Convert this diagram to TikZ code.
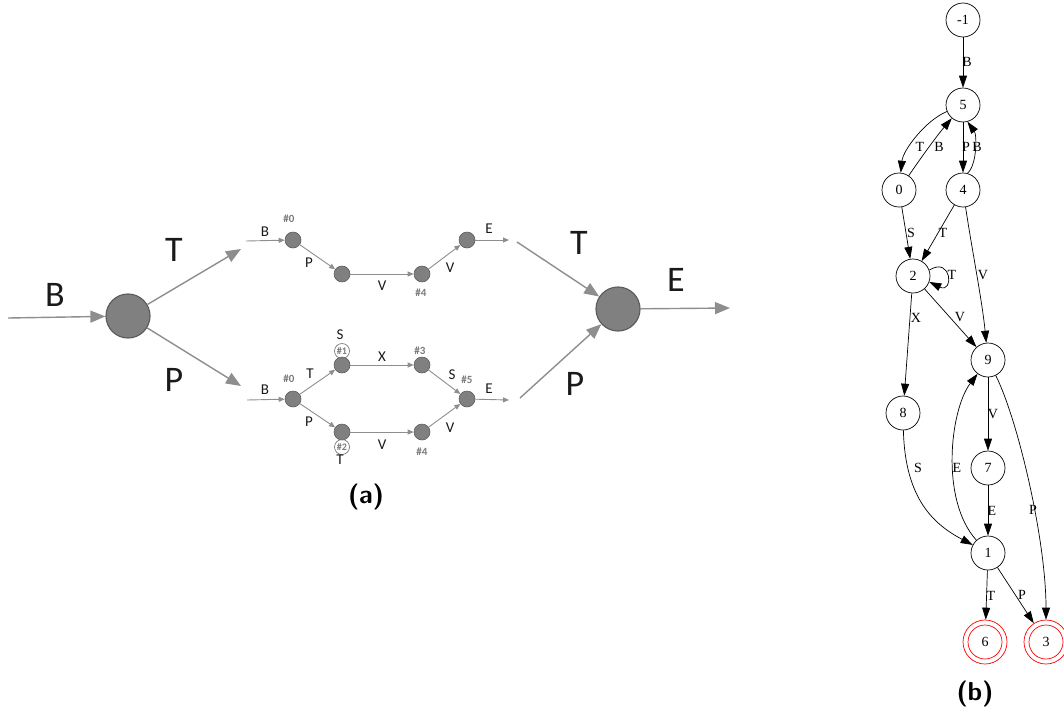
\documentclass[tikz,border=0pt]{standalone}
\usepackage{fontspec}
\setmainfont{Liberation Serif}
\newfontfamily\carl{Carlito}
\usetikzlibrary{arrows.meta}
\definecolor{nfill}{HTML}{808080}
\definecolor{nborder}{HTML}{5E5E5E}
\definecolor{lgray}{HTML}{8E8E8E}
\definecolor{hgray}{HTML}{7A7A7A}
\definecolor{ltext}{HTML}{1A1A1A}
\tikzset{
 bignode/.style={circle,fill=nfill,draw=nborder,line width=1.2pt,minimum size=44pt,inner sep=0pt},
 subnode/.style={circle,fill=nfill,draw=nborder,line width=0.6pt,minimum size=16pt,inner sep=0pt},
 bigarrow/.style={draw=lgray,line width=1.4pt,-{Triangle[length=15pt,width=12pt]},color=lgray},
 subarrow/.style={draw=lgray,line width=0.9pt,-{Triangle[length=6pt,width=5pt]},color=lgray},
 biglab/.style={font=\carl\fontsize{36}{36}\selectfont,text=ltext,inner sep=0pt},
 sublab/.style={font=\carl\fontsize{15}{15}\selectfont,text=ltext,inner sep=0pt},
 hashlab/.style={font=\carl\bfseries\fontsize{11}{11}\selectfont,text=hgray,inner sep=0pt},
 loopnode/.style={circle,draw=hgray,line width=0.7pt,minimum size=15pt,inner sep=0pt,font=\carl\bfseries\fontsize{10}{10}\selectfont,text=hgray},
 gnode/.style={circle,draw=black,line width=0.7pt,minimum size=34pt,inner sep=0pt,font=\fontsize{14}{14}\selectfont},
 fnode/.style={circle,draw=red,line width=0.7pt,minimum size=44pt,inner sep=0pt,font=\fontsize{14}{14}\selectfont},
 garrow/.style={draw=black,line width=0.7pt,-{Triangle[length=12pt,width=8pt]}},
 glab/.style={font=\fontsize{14}{14}\selectfont,inner sep=0pt},
 caption/.style={font=\sffamily\bfseries\fontsize{26}{26}\selectfont,inner sep=0pt}
}
\begin{document}
\begin{tikzpicture}[x=1pt,y=-1pt]
\useasboundingbox (0,0) rectangle (1064,718);
% ---------- (a) ----------
\node[bignode] (L) at (128,316) {};
\node[bignode] (R) at (618,309) {};
\coordinate (lin) at (8,318);
\coordinate (lup) at (241,249);
\coordinate (ldn) at (241,386);
\coordinate (rup) at (517,242);
\coordinate (rdn) at (520,398);
\coordinate (rout) at (730,308);
\draw[bigarrow] (lin) -- (L);
\draw[bigarrow] (L) -- (lup);
\draw[bigarrow] (L) -- (ldn);
\draw[bigarrow] (rup) -- (R);
\draw[bigarrow] (rdn) -- (R);
\draw[bigarrow] (R) -- (rout);
\node[biglab] (lB) at (55,295) {B};
\node[biglab] (lT) at (174,250) {T};
\node[biglab] (lP) at (174,380) {P};
\node[biglab] (rT) at (579,243) {T};
\node[biglab] (rP) at (575,384) {P};
\node[biglab] (rE) at (676,280) {E};
% top path
\coordinate (ta) at (246,241);
\coordinate (tz) at (509,240);
\node[subnode] (t0) at (293,240) {};
\node[subnode] (t1) at (342,274) {};
\node[subnode] (t2) at (422,274) {};
\node[subnode] (t3) at (467,240) {};
\draw[subarrow] (ta) -- (t0);
\draw[subarrow] (t0) -- (t1);
\draw[subarrow] (t1) -- (t2);
\draw[subarrow] (t2) -- (t3);
\draw[subarrow] (t3) -- (tz);
\node[sublab] (tlB) at (265,232) {B};
\node[hashlab] (th0) at (289,219) {\#0};
\node[sublab] (tlP) at (309,263) {P};
\node[sublab] (tlV1) at (382,286) {V};
\node[hashlab] (th4) at (421,293) {\#4};
\node[sublab] (tlV2) at (450,268) {V};
\node[sublab] (tlE) at (489,229) {E};
% bottom path
\coordinate (ba) at (247,400);
\coordinate (bz) at (509,400);
\node[subnode] (b0) at (293,399) {};
\node[subnode] (b1) at (342,365) {};
\node[subnode] (b3) at (422,365) {};
\node[subnode] (b5) at (467,399) {};
\node[subnode] (b2) at (342,432) {};
\node[subnode] (b4) at (422,432) {};
\node[loopnode] (l1) at (342,351) {\#1};
\node[loopnode] (l2) at (342,447) {\#2};
\draw[subarrow] (ba) -- (b0);
\draw[subarrow] (b0) -- (b1);
\draw[subarrow] (b1) -- (b3);
\draw[subarrow] (b3) -- (b5);
\draw[subarrow] (b0) -- (b2);
\draw[subarrow] (b2) -- (b4);
\draw[subarrow] (b4) -- (b5);
\draw[subarrow] (b5) -- (bz);
\node[sublab] (blB) at (265,390) {B};
\node[hashlab] (bh0) at (289,379) {\#0};
\node[sublab] (blT) at (310,374) {T};
\node[sublab] (blS1) at (340,335) {S};
\node[sublab] (blX) at (382,357) {X};
\node[hashlab] (bh3) at (420,351) {\#3};
\node[sublab] (blS2) at (452,375) {S};
\node[hashlab] (bh5) at (467,380) {\#5};
\node[sublab] (blE) at (489,389) {E};
\node[sublab] (blP) at (309,422) {P};
\node[sublab] (blV1) at (382,445) {V};
\node[hashlab] (bh4) at (422,452) {\#4};
\node[sublab] (blV2) at (450,428) {V};
\node[sublab] (blT2) at (340,460) {T};
\node[caption] (capa) at (366,497) {(a)};
% ---------- (b) ----------
\node[gnode] (gm1) at (963,20) {-1};
\node[gnode] (g5) at (963,105) {5};
\node[gnode] (g0) at (899,190) {0};
\node[gnode] (g4) at (963,190) {4};
\node[gnode] (g2) at (913,276) {2};
\node[gnode] (g9) at (988,360) {9};
\node[gnode] (g8) at (903,413) {8};
\node[gnode] (g7) at (988,468) {7};
\node[gnode] (g1) at (988,553) {1};
\node[fnode] (g6) at (985,642) {6};
\node[fnode] (g3) at (1046,642) {3};
\draw[red,line width=0.7pt] (g6.center) circle (17);
\draw[red,line width=0.7pt] (g3.center) circle (17);
\draw[garrow] (gm1) -- (g5);
\draw[garrow] (g5) .. controls (926,120) and (903,150) .. (g0);
\draw[garrow] (g0) .. controls (918,162) and (935,138) .. (g5);
\draw[garrow] (g5) -- (g4);
\draw[garrow] (g4.75) .. controls (977,165) and (977,135) .. (g5.-75);
\draw[garrow] (g0) -- (g2);
\draw[garrow] (g4) -- (g2);
\draw[garrow] (g4) .. controls (972,250) and (982,300) .. (g9);
\draw[garrow] (g2.20) .. controls (952,256) and (954,294) .. (g2.-20);
\draw[garrow] (g2) -- (g8);
\draw[garrow] (g2) -- (g9);
\draw[garrow] (g9) -- (g7);
\draw[garrow] (g7) -- (g1);
\draw[garrow] (g8) .. controls (905,500) and (935,525) .. (g1);
\draw[garrow] (g1) .. controls (940,500) and (950,410) .. (g9);
\draw[garrow] (g9) .. controls (1018,420) and (1046,540) .. (g3);
\draw[garrow] (g1) -- (g6);
\draw[garrow] (g1) -- (g3);
\node[glab] (eB1) at (967,62) {B};
\node[glab] (eT1) at (920,147) {T};
\node[glab] (eB2) at (939,147) {B};
\node[glab] (eP1) at (966,147) {P};
\node[glab] (eB3) at (977,147) {B};
\node[glab] (eS1) at (911,233) {S};
\node[glab] (eT2) at (943,233) {T};
\node[glab] (eT3) at (952,275) {T};
\node[glab] (eV1) at (983,275) {V};
\node[glab] (eX) at (916,318) {X};
\node[glab] (eV2) at (960,317) {V};
\node[glab] (eV3) at (993,414) {V};
\node[glab] (eS2) at (918,468) {S};
\node[glab] (eE1) at (957,468) {E};
\node[glab] (eE2) at (992,511) {E};
\node[glab] (eP2) at (1033,510) {P};
\node[glab] (eT4) at (991,596) {T};
\node[glab] (eP3) at (1022,595) {P};
\node[caption] (capb) at (975,694) {(b)};
\end{tikzpicture}
\end{document}
